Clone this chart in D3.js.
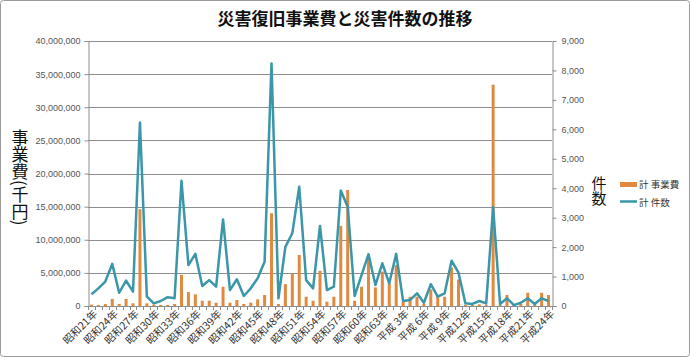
<!DOCTYPE html>
<html><head><meta charset="utf-8">
<script src="https://cdn.jsdelivr.net/npm/d3@7"></script>
<style>
html,body{margin:0;padding:0;background:#fff;}
svg{display:block;}
</style>
</head><body>
<svg id="c" width="690" height="357"></svg>
<script>
const categories = ["昭和21年","昭和22年","昭和23年","昭和24年","昭和25年","昭和26年","昭和27年","昭和28年","昭和29年","昭和30年",
"昭和31年","昭和32年","昭和33年","昭和34年","昭和35年","昭和36年","昭和37年","昭和38年","昭和39年","昭和40年",
"昭和41年","昭和42年","昭和43年","昭和44年","昭和45年","昭和46年","昭和47年","昭和48年","昭和49年","昭和50年",
"昭和51年","昭和52年","昭和53年","昭和54年","昭和55年","昭和56年","昭和57年","昭和58年","昭和59年","昭和60年",
"昭和61年","昭和62年","昭和63年","平成元年","平成 2年","平成 3年","平成 4年","平成 5年","平成 6年","平成 7年",
"平成 8年","平成 9年","平成10年","平成11年","平成12年","平成13年","平成14年","平成15年","平成16年","平成17年",
"平成18年","平成19年","平成20年","平成21年","平成22年","平成23年","平成24年"];

// 計 事業費 (千円)
const costs = [200000,150000,300000,1060000,300000,1060000,400000,14600000,400000,200000,
150000,150000,300000,4700000,2100000,1760000,800000,800000,500000,2900000,
500000,900000,300000,500000,1000000,1660000,14000000,300000,3300000,4900000,
7700000,1400000,800000,5300000,650000,1400000,12100000,17500000,800000,2900000,
7200000,2800000,5200000,3400000,6200000,650000,1400000,1400000,300000,2500000,
1500000,1400000,5800000,4000000,200000,150000,250000,200000,33400000,200000,
1660000,200000,300000,2000000,300000,2000000,1660000];

// 計 件数
const counts = [400,600,830,1430,450,860,490,6230,320,90,
170,300,260,4250,1390,1770,680,880,660,2940,
540,910,340,600,940,1500,8240,260,2010,2470,
4050,880,600,2720,540,660,3920,3370,340,1050,
1760,710,1450,770,1770,170,200,430,110,740,
320,430,1540,1130,90,70,170,90,3350,70,
260,30,110,260,70,260,170];

const leftTicks = [0,5000000,10000000,15000000,20000000,25000000,30000000,35000000,40000000];
const rightTicks = [0,1000,2000,3000,4000,5000,6000,7000,8000,9000];
const seriesNames = ["計 事業費","計 件数"];
const title = "災害復旧事業費と災害件数の推移";

const svg = d3.select("#c");
const W = 690, H = 357;
const L = 88, R = 552, T = 41, B = 306;
const orange = "#E0893F", teal = "#3A96A8", grid = "#8e8e8e", axisCol = "#8e8e8e";

svg.append("rect").attr("x",0.5).attr("y",0.5).attr("width",W-1).attr("height",H-1)
  .attr("fill","#fff").attr("stroke","#9a9a9a").attr("stroke-width",1).attr("rx",3);

const x = d3.scaleBand().domain(categories).range([L,R]).paddingInner(0).paddingOuter(0);
const yL = d3.scaleLinear().domain([0,40000000]).range([B,T]);
const yR = d3.scaleLinear().domain([0,9000]).range([B,T]);

// title
svg.append("text").attr("x",345).attr("y",25).attr("text-anchor","middle")
  .attr("font-family","'Noto Sans CJK JP', sans-serif").attr("font-weight","bold")
  .attr("font-size",17).attr("fill","#111").text(title);

// gridlines
svg.append("g").selectAll("line").data(leftTicks.filter(d=>d>0)).join("line")
  .attr("x1",L).attr("x2",R).attr("y1",d=>Math.round(yL(d))+0.5).attr("y2",d=>Math.round(yL(d))+0.5)
  .attr("stroke",grid).attr("stroke-width",1);

// left axis
const gl = svg.append("g").attr("transform",`translate(${L+0.5},0)`)
  .call(d3.axisLeft(yL).tickValues(leftTicks).tickSize(4).tickPadding(4).tickFormat(d3.format(",")));
gl.select(".domain").attr("stroke",axisCol);
gl.selectAll(".tick line").attr("stroke",axisCol);
gl.selectAll(".tick text").attr("font-family","'Liberation Sans', Arial, sans-serif").attr("font-size",9).attr("fill","#555");

// right axis
const gr = svg.append("g").attr("transform",`translate(${R+0.5},0)`)
  .call(d3.axisRight(yR).tickValues(rightTicks).tickSize(4).tickPadding(5).tickFormat(d3.format(",")));
gr.select(".domain").attr("stroke",axisCol);
gr.selectAll(".tick line").attr("stroke",axisCol);
gr.selectAll(".tick text").attr("font-family","'Liberation Sans', Arial, sans-serif").attr("font-size",9).attr("fill","#555");

// x axis line
svg.append("line").attr("x1",L).attr("x2",R).attr("y1",B+0.5).attr("y2",B+0.5).attr("stroke",axisCol);
// category boundary ticks
svg.append("g").selectAll("line").data(categories.concat(["__end"])).join("line")
  .attr("x1",(d,i)=>Math.round(i<categories.length? x(d): x(categories[categories.length-1])+x.bandwidth())+0.5)
  .attr("x2",(d,i)=>Math.round(i<categories.length? x(d): x(categories[categories.length-1])+x.bandwidth())+0.5)
  .attr("y1",B).attr("y2",B+4).attr("stroke",axisCol);

// x labels (every 3rd)
svg.append("g").selectAll("text").data(categories.filter((d,i)=>i%3===0)).join("text")
  .attr("transform",d=>`translate(${x(d)+x.bandwidth()/2+4},${B+6}) rotate(-45)`)
  .attr("text-anchor","end").attr("dy","0.35em")
  .attr("font-family","'Noto Sans CJK JP', sans-serif").attr("font-size",10.5).attr("fill","#333")
  .text(d=>d);

// bars
const bw = 3;
svg.append("g").selectAll("rect").data(costs).join("rect")
  .attr("x",(d,i)=>x(categories[i])+x.bandwidth()/2-bw/2)
  .attr("y",d=>yL(d)).attr("width",bw).attr("height",d=>B-yL(d))
  .attr("fill",orange);

// line
const line = d3.line().x((d,i)=>x(categories[i])+x.bandwidth()/2).y(d=>yR(d));
svg.append("path").datum(counts).attr("d",line).attr("fill","none")
  .attr("stroke",teal).attr("stroke-width",2.5).attr("stroke-linejoin","round");

// axis titles (vertical)
svg.append("text").attr("x",20).attr("y",129)
  .attr("style","writing-mode: vertical-rl; text-orientation: mixed;")
  .attr("font-family","'Noto Sans CJK JP', sans-serif").attr("font-size",17).attr("fill","#111")
  .text("事業費(千円)");
svg.append("text").attr("x",599).attr("y",176)
  .attr("style","writing-mode: vertical-rl; text-orientation: mixed;")
  .attr("font-family","'Noto Sans CJK JP', sans-serif").attr("font-size",15).attr("fill","#111")
  .text("件数");

// legend
const lg = svg.append("g");
lg.append("rect").attr("x",620).attr("y",182).attr("width",17).attr("height",5).attr("fill",orange);
lg.append("line").attr("x1",620).attr("x2",637).attr("y1",201.5).attr("y2",201.5).attr("stroke",teal).attr("stroke-width",2.5);
lg.selectAll("text").data(seriesNames).join("text")
  .attr("x",639).attr("y",(d,i)=>188+i*17.5)
  .attr("font-family","'Noto Sans CJK JP', sans-serif").attr("font-size",9.5).attr("fill","#333")
  .text(d=>d);
</script>
</body></html>
